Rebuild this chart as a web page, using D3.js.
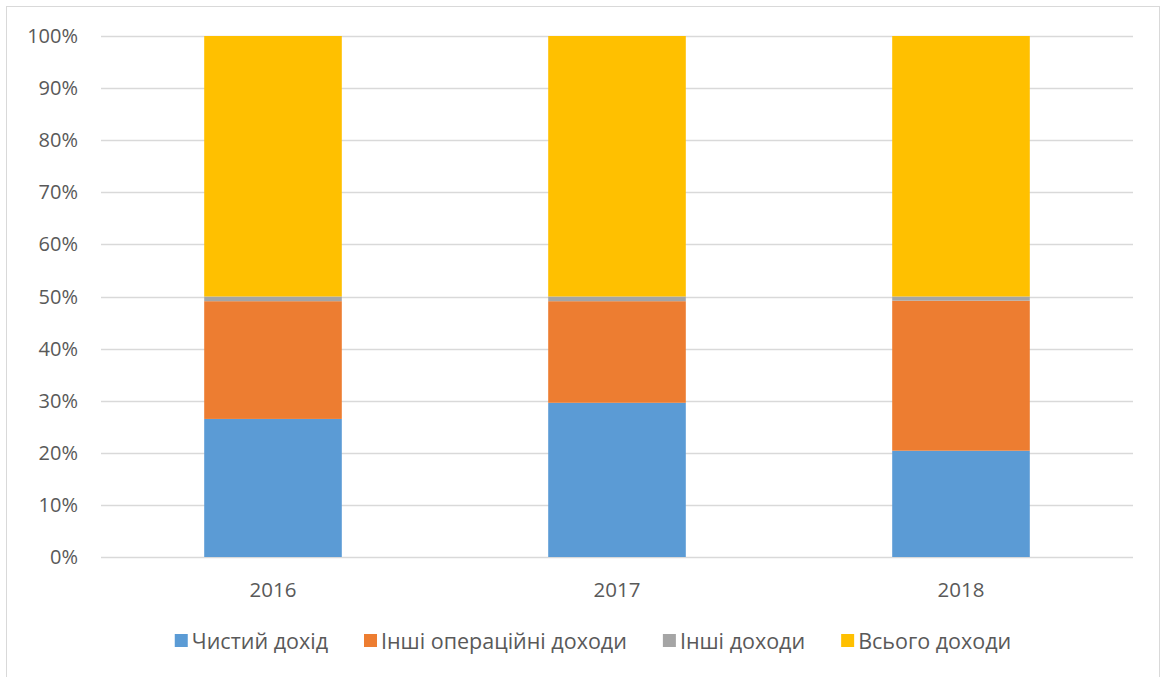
<!DOCTYPE html>
<html>
<head>
<meta charset="utf-8">
<script src="https://cdn.jsdelivr.net/npm/d3@7"></script>
<style>
  body { margin: 0; background: #fff; }
  svg { display: block; font-family: "Open Sans", sans-serif; }
</style>
</head>
<body>
<div id="chart"></div>
<script>
// Data (shares in %)
const years = ["2016", "2017", "2018"];
const seriesNames = ["Чистий дохід", "Інші операційні доходи", "Інші доходи", "Всього доходи"];
const netIncome = [26.5, 29.6, 20.4];
const otherOperating = [22.6, 19.5, 28.8];
const otherIncome = [0.9, 0.9, 0.8];
const totalIncome = [50.0, 50.0, 50.0];
const yTicks = [0, 10, 20, 30, 40, 50, 60, 70, 80, 90, 100];
const colors = ["#5b9bd5", "#ed7d31", "#a5a5a5", "#ffc000"];

const width = 1166, height = 677;
const margin = { top: 36, right: 33, bottom: 120, left: 101 };
const innerW = width - margin.left - margin.right;
const innerH = height - margin.top - margin.bottom;

const svg = d3.select("#chart").append("svg")
    .attr("width", width)
    .attr("height", height);

// chart frame
svg.append("rect")
    .attr("x", 6.5).attr("y", 6.5)
    .attr("width", width - 13).attr("height", height - 6)
    .attr("fill", "none")
    .attr("stroke", "#d9d9d9");

const g = svg.append("g")
    .attr("transform", `translate(${margin.left},${margin.top})`);

const x = d3.scaleBand()
    .domain(years)
    .range([0, innerW])
    .paddingInner(0.6)
    .paddingOuter(0.3);

const y = d3.scaleLinear()
    .domain([0, 100])
    .range([innerH, 0]);

// gridlines
g.append("g")
    .selectAll("line")
    .data(yTicks)
    .join("line")
    .attr("x1", 0).attr("x2", innerW)
    .attr("y1", d => Math.round(y(d)) + 0.5)
    .attr("y2", d => Math.round(y(d)) + 0.5)
    .attr("stroke", "#d9d9d9")
    .attr("stroke-width", 1.3);

// y labels
g.append("g")
    .selectAll("text")
    .data(yTicks)
    .join("text")
    .attr("x", -23)
    .attr("y", d => y(d))
    .attr("dy", "0.35em")
    .attr("text-anchor", "end")
    .attr("fill", "#595959")
    .style("font-size", "20px")
    .text(d => d + "%");

// stacked bars
const rows = years.map((yr, i) => ({
    year: yr,
    s0: netIncome[i], s1: otherOperating[i], s2: otherIncome[i], s3: totalIncome[i]
}));
const stack = d3.stack().keys(["s0", "s1", "s2", "s3"]);
const stacked = stack(rows);

g.append("g")
    .selectAll("g")
    .data(stacked)
    .join("g")
    .attr("fill", (d, i) => colors[i])
    .selectAll("rect")
    .data(d => d)
    .join("rect")
    .attr("x", d => x(d.data.year))
    .attr("width", x.bandwidth())
    .attr("y", d => y(d[1]))
    .attr("height", d => y(d[0]) - y(d[1]));

// x labels
g.append("g")
    .selectAll("text")
    .data(years)
    .join("text")
    .attr("x", d => x(d) + x.bandwidth() / 2)
    .attr("y", innerH + 33)
    .attr("dy", "0.35em")
    .attr("text-anchor", "middle")
    .attr("fill", "#595959")
    .style("font-size", "20.5px")
    .text(d => d);

// legend, centred under the plot
const legend = svg.append("g");
const items = legend.selectAll("g")
    .data(seriesNames)
    .join("g");
items.append("rect")
    .attr("width", 13).attr("height", 13)
    .attr("y", -7)
    .attr("fill", (d, i) => colors[i]);
items.append("text")
    .attr("x", 17)
    .attr("dy", "0.35em")
    .attr("fill", "#595959")
    .style("font-size", "21.5px")
    .text(d => d);

const gap = 36;
let offset = 0;
const offsets = [];
items.each(function () {
    offsets.push(offset);
    offset += this.getBBox().width + gap;
});
const total = offset - gap;
items.attr("transform", (d, i) => `translate(${offsets[i]},0)`);
legend.attr("transform", `translate(${(174 + 1012) / 2 - total / 2},641)`);
</script>
</body>
</html>
